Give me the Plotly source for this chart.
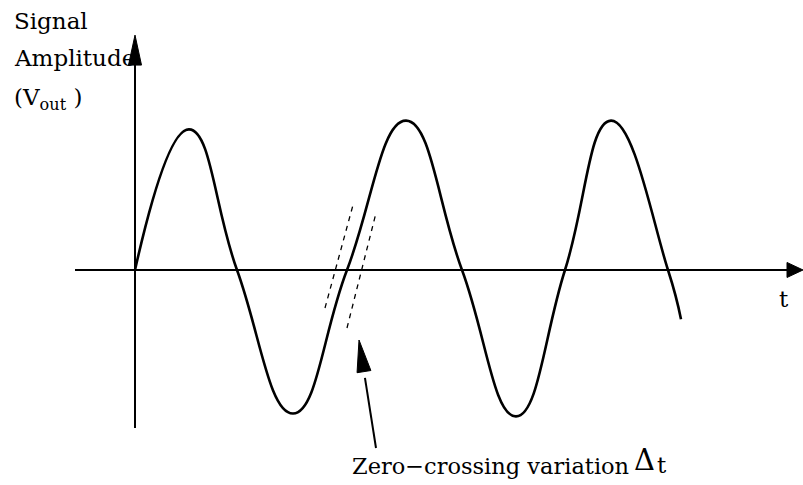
import math
import plotly.graph_objects as go

# Signal trace: time (arb. units) of zero crossings and extrema, with amplitude
t_pts = [0.00, 0.54, 1.02, 1.58, 2.12, 2.71, 3.27, 3.81, 4.30, 4.76, 5.33, 5.46]
v_pts = [0.00, 0.97, 0.00, -0.99, 0.00, 1.03, 0.00, -1.01, 0.00, 1.03, 0.00, -0.34]

# Jitter bounds drawn around the second rising zero crossing
jitter_left_t = [1.90, 2.18]
jitter_left_v = [-0.262, 0.448]
jitter_right_t = [2.12, 2.41]
jitter_right_v = [-0.400, 0.393]

# Axis extents
t_axis = [-0.60, 6.68]
v_axis = [-1.09, 1.62]

# Pointer for the zero-crossing label (tail -> tip)
pointer_tail = (2.41, -1.228)
pointer_tip = (2.24, -0.483)

W, H = 803, 485
X_RANGE = [-1.35, 6.68]
Y_RANGE = [-1.483, 1.862]
PX_X = W / (X_RANGE[1] - X_RANGE[0])
PX_Y = H / (Y_RANGE[1] - Y_RANGE[0])

FONT = "DejaVu Serif"
INK = "black"


def arrow_head(tip, tail, length, width):
    """Filled triangle path (in data coords) pointing from tail to tip; sizes in px."""
    dx = (tip[0] - tail[0]) * PX_X
    dy = (tip[1] - tail[1]) * PX_Y
    n = math.hypot(dx, dy)
    ux, uy = dx / n, dy / n
    bx, by = -ux * length, -uy * length
    px, py = -uy * width / 2, ux * width / 2
    pts = [(0, 0), (bx + px, by + py), (bx - px, by - py)]
    coords = [(tip[0] + a / PX_X, tip[1] + b / PX_Y) for a, b in pts]
    return "M{},{} L{},{} L{},{} Z".format(*[c for p in coords for c in p])


fig = go.Figure()

# sine-like signal
fig.add_trace(go.Scatter(
    x=t_pts, y=v_pts, mode="lines",
    line=dict(color=INK, width=2.6, shape="spline", smoothing=1.3),
    hoverinfo="skip", showlegend=False,
))

# dashed jitter bounds
for tx, vy in ((jitter_left_t, jitter_left_v), (jitter_right_t, jitter_right_v)):
    fig.add_trace(go.Scatter(
        x=tx, y=vy, mode="lines",
        line=dict(color=INK, width=1.3, dash="5px,5px"),
        hoverinfo="skip", showlegend=False,
    ))

shapes = []
# horizontal (time) axis
shapes.append(dict(type="line", x0=t_axis[0], x1=t_axis[1] - 10 / PX_X, y0=0, y1=0,
                   line=dict(color=INK, width=2)))
shapes.append(dict(type="path", path=arrow_head((t_axis[1], 0), (0, 0), 16, 15),
                   fillcolor=INK, line=dict(color=INK, width=1)))
# vertical (amplitude) axis
shapes.append(dict(type="line", x0=0, x1=0, y0=v_axis[0], y1=v_axis[1] - 20 / PX_Y,
                   line=dict(color=INK, width=2)))
shapes.append(dict(type="path", path=arrow_head((0, v_axis[1]), (0, 0), 30, 13),
                   fillcolor=INK, line=dict(color=INK, width=1)))
# label pointer
shapes.append(dict(type="line", x0=pointer_tail[0], y0=pointer_tail[1],
                   x1=pointer_tip[0] + (pointer_tail[0] - pointer_tip[0]) * 0.35,
                   y1=pointer_tip[1] + (pointer_tail[1] - pointer_tip[1]) * 0.35,
                   line=dict(color=INK, width=2)))
shapes.append(dict(type="path", path=arrow_head(pointer_tip, pointer_tail, 32, 14),
                   fillcolor=INK, line=dict(color=INK, width=1)))

annotations = [
    dict(text="Signal", x=12 / W, y=1 - 21 / H, size=23),
    dict(text="Amplitude", x=12 / W, y=1 - 58 / H, size=23),
    dict(text="(V<sub>out</sub> )", x=12 / W, y=1 - 99 / H, size=23),
    dict(text="t", x=777 / W, y=1 - 299 / H, size=23),
    dict(text="Zero\u2212crossing variation", x=350 / W, y=1 - 466 / H, size=22.5),
    dict(text="\u0394", x=632 / W, y=1 - 460 / H, size=29),
    dict(text="t", x=655 / W, y=1 - 465 / H, size=23),
]
for a in annotations:
    a["font"] = dict(family=FONT, size=a.pop("size"), color=INK)
    a.update(xref="paper", yref="paper", showarrow=False,
             xanchor="left", yanchor="middle")

fig.update_layout(
    width=W, height=H,
    margin=dict(l=0, r=0, t=0, b=0),
    paper_bgcolor="white", plot_bgcolor="white",
    xaxis=dict(range=X_RANGE, visible=False, fixedrange=True),
    yaxis=dict(range=Y_RANGE, visible=False, fixedrange=True),
    shapes=shapes, annotations=annotations,
    showlegend=False,
)

fig.write_html("out.html")
